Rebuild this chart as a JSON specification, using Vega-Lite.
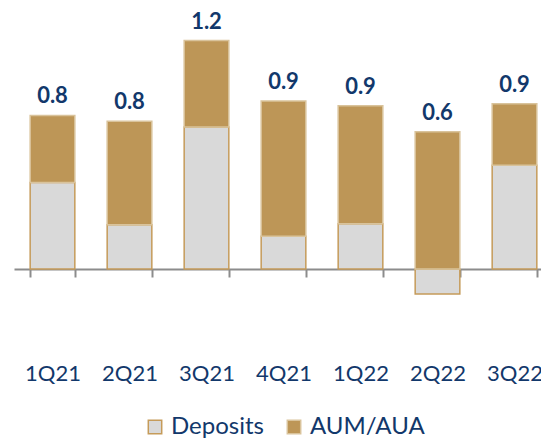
{
  "$schema": "https://vega.github.io/schema/vega-lite/v6.json",
  "width": 539,
  "height": 300,
  "autosize": {"type": "none"},
  "padding": {"left": 14, "top": 0, "right": 0, "bottom": 142},
  "config": {"view": {"stroke": null}, "font": "Lato"},
  "data": {
    "values": [
      {"q": "1Q21", "series": "Deposits", "ord": 1, "value": 0.45, "total": "0.8"},
      {"q": "1Q21", "series": "AUM/AUA", "ord": 2, "value": 0.35, "total": "0.8"},
      {"q": "2Q21", "series": "Deposits", "ord": 1, "value": 0.23, "total": "0.8"},
      {"q": "2Q21", "series": "AUM/AUA", "ord": 2, "value": 0.54, "total": "0.8"},
      {"q": "3Q21", "series": "Deposits", "ord": 1, "value": 0.74, "total": "1.2"},
      {"q": "3Q21", "series": "AUM/AUA", "ord": 2, "value": 0.45, "total": "1.2"},
      {"q": "4Q21", "series": "Deposits", "ord": 1, "value": 0.17, "total": "0.9"},
      {"q": "4Q21", "series": "AUM/AUA", "ord": 2, "value": 0.705, "total": "0.9"},
      {"q": "1Q22", "series": "Deposits", "ord": 1, "value": 0.235, "total": "0.9"},
      {"q": "1Q22", "series": "AUM/AUA", "ord": 2, "value": 0.615, "total": "0.9"},
      {"q": "2Q22", "series": "Deposits", "ord": 1, "value": -0.13, "total": "0.6"},
      {"q": "2Q22", "series": "AUM/AUA", "ord": 2, "value": 0.715, "total": "0.6"},
      {"q": "3Q22", "series": "Deposits", "ord": 1, "value": 0.54, "total": "0.9"},
      {"q": "3Q22", "series": "AUM/AUA", "ord": 2, "value": 0.32, "total": "0.9"}
    ]
  },
  "layer": [
    {
      "mark": {"type": "bar", "strokeWidth": 1.5},
      "encoding": {
        "x": {
          "field": "q", "type": "nominal", "sort": null,
          "scale": {"paddingInner": 0.42, "paddingOuter": 0.21},
          "axis": {
            "title": null, "orient": "bottom", "offset": -31,
            "domainColor": "#8C8C8C", "domainWidth": 2,
            "tickColor": "#8C8C8C", "tickWidth": 2, "tickSize": 8, "tickBand": "extent",
            "labelFontSize": 22, "labelColor": "#12386B", "labelPadding": 86,
            "labelAngle": 0, "labelFont": "Lato"
          }
        },
        "y": {
          "field": "value", "type": "quantitative", "stack": "zero",
          "scale": {"domain": [-0.1615, 1.401], "nice": false, "zero": false},
          "axis": null
        },
        "fill": {
          "field": "series", "type": "nominal",
          "scale": {"domain": ["Deposits", "AUM/AUA"], "range": ["#D9D9D9", "#BD9657"]},
          "legend": {
            "orient": "none", "legendX": 129, "legendY": 415, "direction": "horizontal",
            "title": null, "symbolType": "square", "symbolSize": 180,
            "labelFontSize": 24, "labelColor": "#12386B", "labelFont": "Lato",
            "columnPadding": 18, "labelOffset": 4, "symbolStrokeWidth": 1.5, "padding": 0
          }
        },
        "stroke": {
          "field": "series", "type": "nominal",
          "scale": {"domain": ["Deposits", "AUM/AUA"], "range": ["#C59B5A", "#D9C39B"]},
          "legend": {
            "orient": "none", "legendX": 129, "legendY": 415, "direction": "horizontal",
            "title": null, "symbolType": "square", "symbolSize": 180,
            "labelFontSize": 24, "labelColor": "#12386B", "labelFont": "Lato",
            "columnPadding": 18, "labelOffset": 4, "symbolStrokeWidth": 1.5, "padding": 0
          }
        },
        "order": {"field": "ord"}
      }
    },
    {
      "transform": [
        {"stack": "value", "groupby": ["q"], "sort": [{"field": "ord"}], "as": ["v0", "v1"]},
        {"filter": "datum.series === 'AUM/AUA'"}
      ],
      "mark": {"type": "text", "baseline": "bottom", "dy": -7, "fontWeight": "bold", "fontSize": 22, "color": "#12386B", "font": "Lato"},
      "encoding": {
        "x": {"field": "q", "type": "nominal", "sort": null},
        "y": {"field": "v1", "type": "quantitative"},
        "text": {"field": "total"}
      }
    }
  ]
}
